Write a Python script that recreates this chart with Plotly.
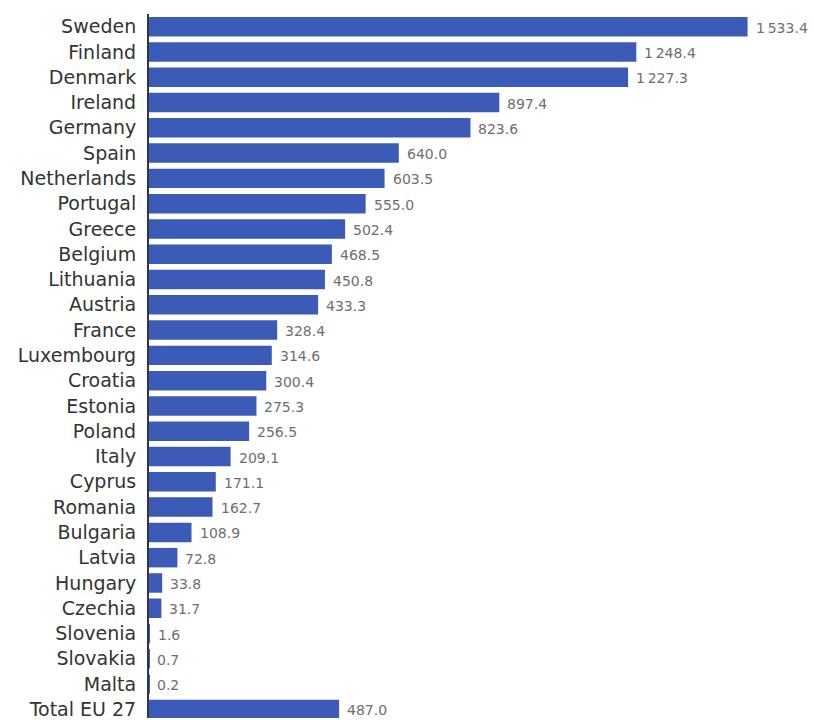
import plotly.graph_objects as go

countries = ["Sweden", "Finland", "Denmark", "Ireland", "Germany", "Spain",
             "Netherlands", "Portugal", "Greece", "Belgium", "Lithuania",
             "Austria", "France", "Luxembourg", "Croatia", "Estonia", "Poland",
             "Italy", "Cyprus", "Romania", "Bulgaria", "Latvia", "Hungary",
             "Czechia", "Slovenia", "Slovakia", "Malta", "Total EU 27"]
values = [1533.4, 1248.4, 1227.3, 897.4, 823.6, 640.0, 603.5, 555.0, 502.4,
          468.5, 450.8, 433.3, 328.4, 314.6, 300.4, 275.3, 256.5, 209.1, 171.1,
          162.7, 108.9, 72.8, 33.8, 31.7, 1.6, 0.7, 0.2, 487.0]

labels = [f"{v:,.1f}".replace(",", "\u2009") for v in values]

fig = go.Figure(go.Bar(
    x=values, y=countries, orientation="h",
    marker=dict(color="#3b5bb7", line=dict(width=0)),
    hoverinfo="skip",
))

for v, c, t in zip(values, countries, labels):
    fig.add_annotation(x=v, y=c, text=t, showarrow=False, xanchor="left",
                       yanchor="middle", xshift=6, yshift=-1,
                       font=dict(family="DejaVu Sans", size=14, color="#6e6e6e"))

fig.update_layout(
    width=814, height=720,
    margin=dict(l=149, r=10, t=14, b=0, pad=0),
    paper_bgcolor="white", plot_bgcolor="white",
    bargap=0.23,
    showlegend=False,
    xaxis=dict(range=[0, 1678], showgrid=False, zeroline=False,
               showticklabels=False, showline=False, fixedrange=True),
    yaxis=dict(type="category", range=[27.34, -0.5], showgrid=False,
               zeroline=False, showline=True, linecolor="#2f3550",
               linewidth=2, ticks="", ticklabelstandoff=7,
               tickfont=dict(family="DejaVu Sans", size=19, color="#333333"),
               fixedrange=True),
)

fig.write_html("out.html")
